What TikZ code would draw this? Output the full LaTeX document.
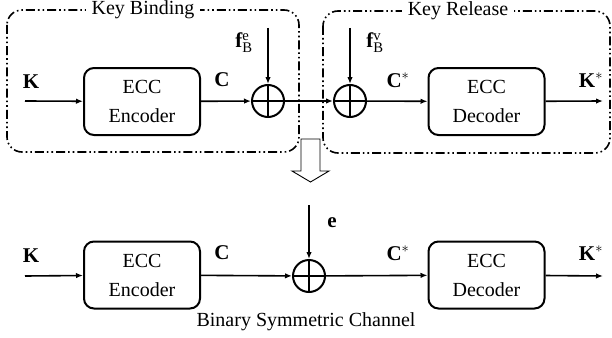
\documentclass[tikz,border=0pt]{standalone}
\usepackage{fontspec}
\setmainfont{Liberation Serif}
\usetikzlibrary{arrows.meta}
\begin{document}
\begin{tikzpicture}[x=1pt,y=-1pt,
  every node/.style={font=\fontsize{20}{29}\selectfont},
  blk/.style={draw, line width=2pt, rounded corners=10pt, minimum width=116pt, minimum height=67pt, align=center, inner sep=0pt},
  xorn/.style={circle, draw, line width=2pt, minimum size=32pt, inner sep=0pt,
    path picture={\draw[line width=2pt] (path picture bounding box.north) -- (path picture bounding box.south) (path picture bounding box.west) -- (path picture bounding box.east);}},
  sig/.style={line width=1.6pt, -{Latex[length=7pt,width=5.5pt]}},
  grp/.style={line width=1.6pt, rounded corners=15pt, dash pattern=on 9pt off 3pt on 1.6pt off 3pt on 1.6pt off 3pt},
  grptitle/.style={fill=white, inner xsep=6pt, inner ysep=2pt},
  lbl/.style={inner sep=0pt, font=\fontsize{21}{24}\selectfont},
  hollow/.style={draw, line width=0.9pt, fill=white}]
\useasboundingbox (0,0) rectangle (612,337);

% group boxes
\draw[grp] (7,10) rectangle (299,152);
\draw[grp] (323,11) rectangle (610,153);
\node[grptitle] (tkb) at (143,10) {Key Binding};
\node[grptitle] (tkr) at (458,11) {Key Release};

% top row
\coordinate (kin1) at (25,101);
\node[blk] (enc1) at (142,101.5) {ECC\\Encoder};
\node[xorn] (x1) at (268,101) {};
\node[xorn] (x2) at (350,101) {};
\node[blk] (dec1) at (486.5,101.5) {ECC\\Decoder};
\coordinate (kout1) at (603,101);
\coordinate (fe) at (268,28);
\coordinate (fv) at (350,28);

\draw[sig] (kin1) -- (enc1);
\draw[sig] (enc1) -- (x1);
\draw[sig] (x1) -- (x2);
\draw[sig] (x2) -- (dec1);
\draw[sig] (dec1) -- (kout1);
\draw[sig] (fe) -- (x1);
\draw[sig] (fv) -- (x2);

\node[lbl] (lk1) at (31,82) {$\mathbf{K}$};
\node[lbl] (lc1) at (222,80) {$\mathbf{C}$};
\node[lbl] (lfe) at (244,43) {$\mathbf{f}^{\mathrm{e}}_{\mathrm{B}}$};
\node[lbl] (lfv) at (375,43) {$\mathbf{f}^{\mathrm{v}}_{\mathrm{B}}$};
\node[lbl] (lcs1) at (398,80) {$\mathbf{C}^{*}$};
\node[lbl] (lks1) at (591,80) {$\mathbf{K}^{*}$};

% hollow arrow
\draw[hollow] (301,139) -- (320,139) -- (320,171) -- (329,171) -- (310.5,182) -- (292,171) -- (301,171) -- cycle;

% bottom row
\coordinate (kin2) at (25,276);
\node[blk] (enc2) at (142,275) {ECC\\Encoder};
\node[xorn] (x3) at (309,276) {};
\node[blk] (dec2) at (486.5,275) {ECC\\Decoder};
\coordinate (kout2) at (603,276);
\coordinate (ee) at (309,205);

\draw[sig] (kin2) -- (enc2);
\draw[sig] (enc2) -- (x3);
\draw[sig] (x3) -- (dec2);
\draw[sig] (dec2) -- (kout2);
\draw[sig] (ee) -- (x3);

\node[lbl] (lk2) at (31,256) {$\mathbf{K}$};
\node[lbl] (lc2) at (222,253) {$\mathbf{C}$};
\node[lbl] (le) at (332,223) {$\mathbf{e}$};
\node[lbl] (lcs2) at (398,253) {$\mathbf{C}^{*}$};
\node[lbl] (lks2) at (591,253) {$\mathbf{K}^{*}$};

\node (bsc) at (306,322) {Binary Symmetric Channel};
\end{tikzpicture}
\end{document}
